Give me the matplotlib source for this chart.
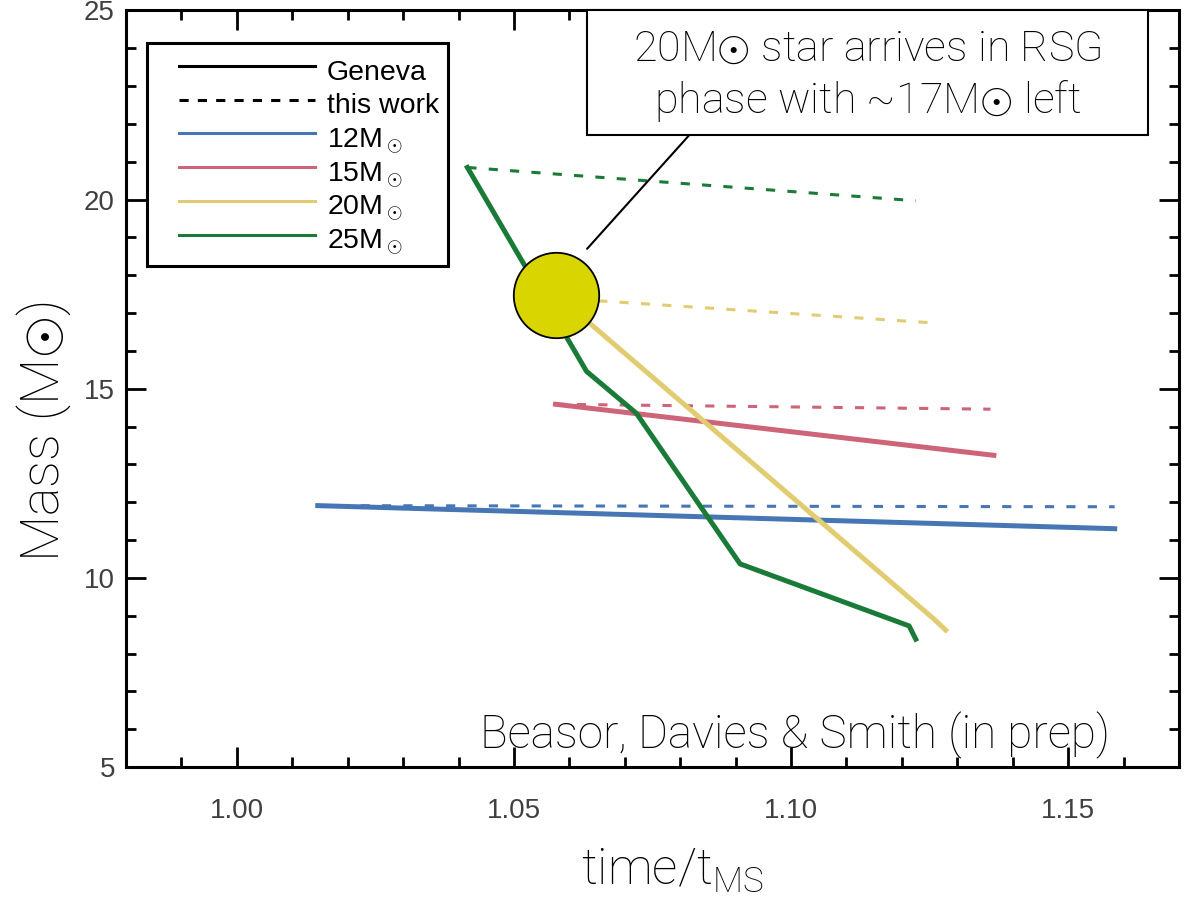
import matplotlib.pyplot as plt
from matplotlib.lines import Line2D
from matplotlib.legend_handler import HandlerLine2D
from matplotlib.patches import Rectangle
from matplotlib.ticker import MultipleLocator, FormatStrFormatter

plt.rcParams['font.family'] = ['Liberation Sans', 'DejaVu Sans']
plt.rcParams['mathtext.fontset'] = 'custom'
plt.rcParams['mathtext.rm'] = 'Liberation Sans'

# Geneva tracks (solid) and this work (dashed): time/t_MS vs mass
t_g12 = [1.0146, 1.1584]
m_g12 = [11.91, 11.30]
t_w12 = [1.0146, 1.1584]
m_w12 = [11.91, 11.88]

t_g15 = [1.0575, 1.1366]
m_g15 = [14.59, 13.24]
t_w15 = [1.0575, 1.1360]
m_w15 = [14.59, 14.46]

t_g20 = [1.0575, 1.1258, 1.1279]
m_g20 = [17.51, 8.91, 8.62]
t_w20 = [1.0575, 1.1258]
m_w20 = [17.40, 16.74]

t_g25 = [1.0416, 1.0631, 1.0721, 1.0908, 1.1213, 1.1225]
m_g25 = [20.85, 15.46, 14.35, 10.37, 8.73, 8.38]
t_w25 = [1.0416, 1.1225]
m_w25 = [20.85, 19.97]

# RSG arrival marker
t_rsg = 1.0575
m_rsg = 17.48

colors = {'12': '#4677b4', '15': '#cd6478', '20': '#e2cc72', '25': '#1a7a37'}
tracks = [
    ('12', t_g12, m_g12, t_w12, m_w12),
    ('15', t_g15, m_g15, t_w15, m_w15),
    ('20', t_g20, m_g20, t_w20, m_w20),
    ('25', t_g25, m_g25, t_w25, m_w25),
]

fig = plt.figure(figsize=(11.9, 8.98), dpi=100)
ax = fig.add_axes([0.10588, 0.14588, 0.88487, 0.84243])

for key, tg, mg, tw, mw in tracks:
    ax.plot(tg, mg, '-', c=colors[key], lw=3.6, zorder=3)
    ax.plot(tw, mw, '--', c=colors[key], lw=2.2, dashes=(3, 4), zorder=2)

ax.scatter([t_rsg], [m_rsg], s=3780, c='#d9d500', edgecolors='k', linewidths=1.3, zorder=5)

ax.set_xlim(0.98, 1.17)
ax.set_ylim(5, 25)
ax.xaxis.set_major_locator(MultipleLocator(0.05))
ax.xaxis.set_minor_locator(MultipleLocator(0.01))
ax.xaxis.set_major_formatter(FormatStrFormatter('%.2f'))
ax.yaxis.set_major_locator(MultipleLocator(5))
ax.yaxis.set_minor_locator(MultipleLocator(1))
ax.tick_params(which='both', direction='in', top=True, right=True, width=2, colors='k',
               labelcolor='#404040', labelsize=20)
ax.tick_params(which='major', length=14.5)
ax.tick_params(which='minor', length=7)
ax.tick_params(axis='x', pad=22)
ax.tick_params(axis='y', pad=8)
for sp in ax.spines.values():
    sp.set_linewidth(2.2)

lightfont = dict(family=['Roboto', 'DejaVu Sans'], weight='light')
ax.set_xlabel(r'time/t$_{\mathregular{MS}}$', fontsize=36, **lightfont)
ax.set_ylabel(r'Mass (M$\odot$)', fontsize=39, **lightfont)
ax.xaxis.set_label_coords(0.5185, -0.105)
ax.yaxis.set_label_coords(-0.05, 0.443)

handles = [
    Line2D([], [], c='k', lw=2.2, ls='-'),
    Line2D([], [], c='k', lw=2.2, ls='--', dashes=(3, 3)),
] + [Line2D([], [], c=colors[k], lw=2.2) for k in ['12', '15', '20', '25']]
labels = ['Geneva', 'this work'] + [k + r'M$_\odot$' for k in ['12', '15', '20', '25']]
leg = ax.legend(handles, labels, loc='upper left', bbox_to_anchor=(0.02, 0.957),
                borderaxespad=0, fontsize=20.5, handlelength=5.57, handleheight=1.58,
                handletextpad=0.43, labelspacing=-0.085, borderpad=0.32, fancybox=False,
                framealpha=1, edgecolor='k',
                handler_map={Line2D: HandlerLine2D(xpad=0.81)})
leg.get_frame().set_linewidth(2.2)
leg.set_zorder(6)

# callout box
ax.add_patch(Rectangle((0.438, 0.8354), 0.5326, 0.1646, transform=ax.transAxes,
                       fc='white', ec='k', lw=1.5, zorder=7, clip_on=False))
ax.text(0.704, 0.949, r'20M$\odot$ star arrives in RSG', transform=ax.transAxes,
        ha='center', va='center', fontsize=31, zorder=8, **lightfont)
ax.text(0.704, 0.880, r'phase with ~17M$\odot$ left', transform=ax.transAxes,
        ha='center', va='center', fontsize=31, zorder=8, **lightfont)
ax.annotate('', xy=(1.0632, 18.70), xytext=(1.0816, 21.70),
            arrowprops=dict(arrowstyle='-', color='k', lw=1.5, shrinkA=0, shrinkB=0),
            zorder=6)

ax.text(0.9345, 0.042, 'Beasor, Davies & Smith (in prep)', transform=ax.transAxes,
        ha='right', va='center', fontsize=33, zorder=8, **lightfont)

fig.savefig('out.png', dpi=100)
